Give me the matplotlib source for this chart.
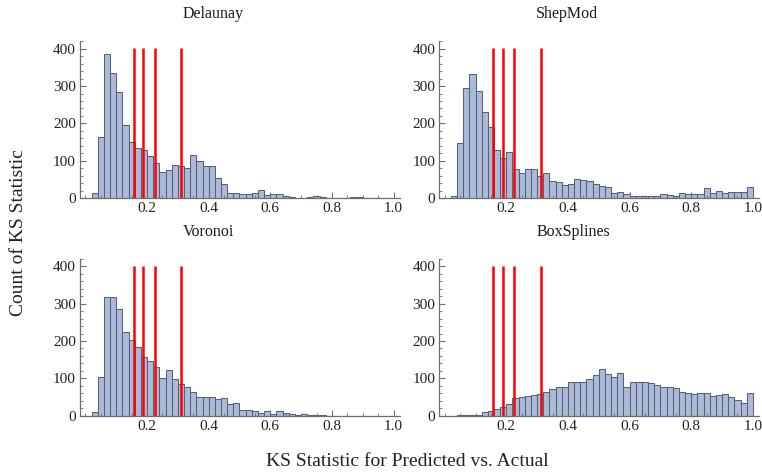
import numpy as np
import matplotlib
matplotlib.use("Agg")
import matplotlib.pyplot as plt
from matplotlib.ticker import MultipleLocator

plt.rcParams['font.family'] = ['Liberation Serif', 'DejaVu Serif']

# histogram bins: 0.00 .. 1.00, width 0.02
bin_left = np.arange(50) * 0.02

delaunay = [0, 13, 163, 385, 334, 285, 195, 150, 135, 129,
            112, 94, 69, 76, 90, 86, 81, 115, 99, 87,
            87, 54, 38, 13, 14, 12, 12, 15, 22, 9,
            11, 10, 7, 4, 0, 0, 2, 5, 2, 0,
            0, 1, 1, 2, 4, 0, 0, 0, 0, 0]
shepmod = [0, 6, 147, 294, 332, 287, 230, 191, 130, 107,
           123, 79, 67, 78, 78, 60, 67, 47, 43, 35,
           38, 51, 49, 47, 38, 32, 30, 13, 16, 10,
           7, 7, 7, 6, 7, 10, 8, 7, 14, 12,
           12, 12, 26, 14, 19, 13, 16, 17, 17, 30]
voronoi = [0, 11, 104, 318, 319, 285, 225, 203, 183, 158,
           147, 130, 102, 122, 98, 85, 77, 64, 51, 50,
           50, 45, 47, 31, 34, 16, 15, 13, 7, 12,
           4, 13, 6, 5, 3, 4, 2, 2, 2, 0,
           0, 0, 0, 0, 0, 0, 0, 0, 0, 0]
boxsplines = [0, 0, 1, 1, 1, 2, 9, 13, 18, 22,
              31, 47, 50, 52, 55, 58, 63, 71, 77, 77,
              91, 90, 91, 99, 108, 125, 112, 103, 114, 76,
              89, 90, 90, 88, 81, 76, 77, 73, 64, 61,
              58, 61, 60, 53, 55, 57, 50, 41, 34, 61]

critical = [0.157, 0.188, 0.225, 0.311]

names = ["Delaunay", "ShepMod", "Voronoi", "BoxSplines"]
counts = [delaunay, shepmod, voronoi, boxsplines]

fig = plt.figure(figsize=(7.62, 4.74), dpi=100)

# left, bottom for each panel
pos = [(0.105, 0.582), (0.5765, 0.582), (0.105, 0.123), (0.5765, 0.123)]
title_x = [0.415, 0.40, 0.40, 0.42]

axis_col = '#6e6e6e'
for i in range(4):
    ax = fig.add_axes([pos[i][0], pos[i][1], 0.42, 0.331])
    ax.bar(bin_left, counts[i], width=0.02, align='edge',
           color='#abbbd7', edgecolor='#56607a', linewidth=0.75)
    ax.vlines(critical, 0, 402, color='red', linewidth=1.8)
    ax.set_xlim(-0.0175, 1.021)
    ax.set_ylim(0, 420)
    ax.set_xticks([0.2, 0.4, 0.6, 0.8, 1.0])
    ax.set_xticklabels(["0.2", "0.4", "0.6", "0.8", "1.0"])
    ax.set_yticks([0, 100, 200, 300, 400])
    ax.xaxis.set_minor_locator(MultipleLocator(0.05))
    ax.yaxis.set_minor_locator(MultipleLocator(20))
    ax.tick_params(which='both', direction='in', color=axis_col,
                   labelsize=11, labelcolor='#222222', pad=3)
    ax.tick_params(which='major', length=4)
    ax.tick_params(which='minor', length=2)
    for s in ['top', 'right']:
        ax.spines[s].set_visible(False)
    for s in ['left', 'bottom']:
        ax.spines[s].set_color(axis_col)
        ax.spines[s].set_linewidth(0.9)
    ax.text(title_x[i], 1.12, names[i], transform=ax.transAxes,
            ha='center', va='bottom', fontsize=11.5, color='#1a1a1a')

fig.text(0.024, 0.51, "Count of KS Statistic", rotation=90,
         ha='center', va='center', fontsize=14, color='#222222')
fig.text(0.535, 0.027, "KS Statistic for Predicted vs. Actual",
         ha='center', va='center', fontsize=14, color='#222222')

fig.savefig("out.png", dpi=100)
